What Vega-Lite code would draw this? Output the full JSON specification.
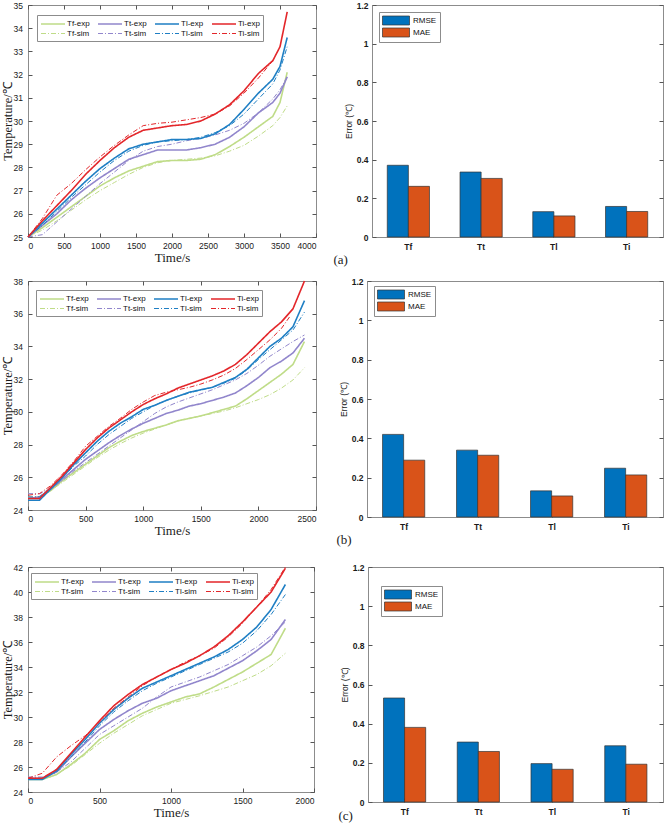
{
"$schema": "https://vega.github.io/schema/vega-lite/v6.json",
"padding": {"left": 0, "top": 0, "right": 0, "bottom": 0},
"background": "white",
"spacing": 9,
"config": {
  "view": {"stroke": "#8c8c8c", "strokeWidth": 1},
  "axis": {"grid": false, "domain": false, "tickColor": "#555", "tickSize": -4, "labelFont": "Liberation Sans", "labelColor": "#1a1a1a", "titleColor": "#1a1a1a", "titleFontWeight": "normal"},
  "axisX": {"labelFontSize": 8.5, "labelPadding": 8, "titlePadding": 2},
  "axisY": {"labelFontSize": 8.5, "labelPadding": 9.5, "titlePadding": 1}
},
"resolve": {"scale": {"color": "independent", "strokeDash": "independent", "strokeWidth": "independent"}},
"vconcat": [
{
  "hconcat": [
  {
    "width": 288, "height": 232,
    "data": {"values": [
{"s":"Tf-sim","t":0,"v":25.0},{"s":"Tf-sim","t":200,"v":25.3},{"s":"Tf-sim","t":400,"v":25.7},{"s":"Tf-sim","t":600,"v":26.15},{"s":"Tf-sim","t":800,"v":26.6},{"s":"Tf-sim","t":1000,"v":27.0},{"s":"Tf-sim","t":1200,"v":27.35},{"s":"Tf-sim","t":1400,"v":27.7},{"s":"Tf-sim","t":1600,"v":28.0},{"s":"Tf-sim","t":1800,"v":28.2},{"s":"Tf-sim","t":2000,"v":28.3},{"s":"Tf-sim","t":2200,"v":28.35},{"s":"Tf-sim","t":2400,"v":28.4},{"s":"Tf-sim","t":2600,"v":28.5},{"s":"Tf-sim","t":2800,"v":28.7},{"s":"Tf-sim","t":3000,"v":28.95},{"s":"Tf-sim","t":3200,"v":29.35},{"s":"Tf-sim","t":3400,"v":29.8},{"s":"Tf-sim","t":3500,"v":30.15},{"s":"Tf-sim","t":3600,"v":30.65},
{"s":"Tf-exp","t":0,"v":25.0},{"s":"Tf-exp","t":200,"v":25.4},{"s":"Tf-exp","t":400,"v":25.85},{"s":"Tf-exp","t":600,"v":26.3},{"s":"Tf-exp","t":800,"v":26.75},{"s":"Tf-exp","t":1000,"v":27.2},{"s":"Tf-exp","t":1200,"v":27.55},{"s":"Tf-exp","t":1400,"v":27.85},{"s":"Tf-exp","t":1600,"v":28.05},{"s":"Tf-exp","t":1800,"v":28.25},{"s":"Tf-exp","t":2000,"v":28.3},{"s":"Tf-exp","t":2200,"v":28.3},{"s":"Tf-exp","t":2400,"v":28.35},{"s":"Tf-exp","t":2600,"v":28.55},{"s":"Tf-exp","t":2800,"v":28.9},{"s":"Tf-exp","t":3000,"v":29.3},{"s":"Tf-exp","t":3200,"v":29.75},{"s":"Tf-exp","t":3400,"v":30.2},{"s":"Tf-exp","t":3500,"v":30.8},{"s":"Tf-exp","t":3600,"v":32.1},
{"s":"Tt-sim","t":0,"v":25.0},{"s":"Tt-sim","t":200,"v":25.1},{"s":"Tt-sim","t":400,"v":25.65},{"s":"Tt-sim","t":600,"v":26.2},{"s":"Tt-sim","t":800,"v":26.75},{"s":"Tt-sim","t":1000,"v":27.3},{"s":"Tt-sim","t":1200,"v":27.8},{"s":"Tt-sim","t":1400,"v":28.3},{"s":"Tt-sim","t":1600,"v":28.7},{"s":"Tt-sim","t":1800,"v":28.9},{"s":"Tt-sim","t":2000,"v":29.0},{"s":"Tt-sim","t":2200,"v":29.15},{"s":"Tt-sim","t":2400,"v":29.25},{"s":"Tt-sim","t":2600,"v":29.4},{"s":"Tt-sim","t":2800,"v":29.6},{"s":"Tt-sim","t":3000,"v":29.9},{"s":"Tt-sim","t":3200,"v":30.35},{"s":"Tt-sim","t":3400,"v":30.95},{"s":"Tt-sim","t":3500,"v":31.35},{"s":"Tt-sim","t":3600,"v":31.9},
{"s":"Tt-exp","t":0,"v":25.0},{"s":"Tt-exp","t":200,"v":25.5},{"s":"Tt-exp","t":400,"v":26.0},{"s":"Tt-exp","t":600,"v":26.6},{"s":"Tt-exp","t":800,"v":27.1},{"s":"Tt-exp","t":1000,"v":27.55},{"s":"Tt-exp","t":1200,"v":27.95},{"s":"Tt-exp","t":1400,"v":28.35},{"s":"Tt-exp","t":1600,"v":28.55},{"s":"Tt-exp","t":1800,"v":28.75},{"s":"Tt-exp","t":2000,"v":28.75},{"s":"Tt-exp","t":2200,"v":28.75},{"s":"Tt-exp","t":2400,"v":28.85},{"s":"Tt-exp","t":2600,"v":29.0},{"s":"Tt-exp","t":2800,"v":29.3},{"s":"Tt-exp","t":3000,"v":29.75},{"s":"Tt-exp","t":3200,"v":30.35},{"s":"Tt-exp","t":3400,"v":30.8},{"s":"Tt-exp","t":3500,"v":31.2},{"s":"Tt-exp","t":3600,"v":31.9},
{"s":"Tl-sim","t":0,"v":25.0},{"s":"Tl-sim","t":200,"v":25.5},{"s":"Tl-sim","t":400,"v":26.1},{"s":"Tl-sim","t":600,"v":26.7},{"s":"Tl-sim","t":800,"v":27.25},{"s":"Tl-sim","t":1000,"v":27.8},{"s":"Tl-sim","t":1200,"v":28.3},{"s":"Tl-sim","t":1400,"v":28.7},{"s":"Tl-sim","t":1600,"v":28.95},{"s":"Tl-sim","t":1800,"v":29.1},{"s":"Tl-sim","t":2000,"v":29.15},{"s":"Tl-sim","t":2200,"v":29.2},{"s":"Tl-sim","t":2400,"v":29.3},{"s":"Tl-sim","t":2600,"v":29.5},{"s":"Tl-sim","t":2800,"v":29.8},{"s":"Tl-sim","t":3000,"v":30.3},{"s":"Tl-sim","t":3200,"v":30.95},{"s":"Tl-sim","t":3400,"v":31.6},{"s":"Tl-sim","t":3500,"v":32.2},{"s":"Tl-sim","t":3600,"v":33.2},
{"s":"Tl-exp","t":0,"v":25.0},{"s":"Tl-exp","t":200,"v":25.6},{"s":"Tl-exp","t":400,"v":26.2},{"s":"Tl-exp","t":600,"v":26.8},{"s":"Tl-exp","t":800,"v":27.4},{"s":"Tl-exp","t":1000,"v":27.95},{"s":"Tl-exp","t":1200,"v":28.4},{"s":"Tl-exp","t":1400,"v":28.8},{"s":"Tl-exp","t":1600,"v":29.0},{"s":"Tl-exp","t":1800,"v":29.1},{"s":"Tl-exp","t":2000,"v":29.2},{"s":"Tl-exp","t":2200,"v":29.2},{"s":"Tl-exp","t":2400,"v":29.25},{"s":"Tl-exp","t":2600,"v":29.45},{"s":"Tl-exp","t":2800,"v":29.85},{"s":"Tl-exp","t":3000,"v":30.5},{"s":"Tl-exp","t":3200,"v":31.2},{"s":"Tl-exp","t":3400,"v":31.8},{"s":"Tl-exp","t":3500,"v":32.35},{"s":"Tl-exp","t":3600,"v":33.6},
{"s":"Ti-sim","t":0,"v":25.0},{"s":"Ti-sim","t":200,"v":25.8},{"s":"Ti-sim","t":400,"v":26.8},{"s":"Ti-sim","t":600,"v":27.3},{"s":"Ti-sim","t":800,"v":27.9},{"s":"Ti-sim","t":1000,"v":28.45},{"s":"Ti-sim","t":1200,"v":28.95},{"s":"Ti-sim","t":1400,"v":29.4},{"s":"Ti-sim","t":1600,"v":29.8},{"s":"Ti-sim","t":1800,"v":29.9},{"s":"Ti-sim","t":2000,"v":29.95},{"s":"Ti-sim","t":2200,"v":30.05},{"s":"Ti-sim","t":2400,"v":30.15},{"s":"Ti-sim","t":2600,"v":30.3},{"s":"Ti-sim","t":2800,"v":30.65},{"s":"Ti-sim","t":3000,"v":31.2},{"s":"Ti-sim","t":3200,"v":31.85},{"s":"Ti-sim","t":3400,"v":32.6},
{"s":"Ti-exp","t":0,"v":25.0},{"s":"Ti-exp","t":200,"v":25.7},{"s":"Ti-exp","t":400,"v":26.35},{"s":"Ti-exp","t":600,"v":27.0},{"s":"Ti-exp","t":800,"v":27.7},{"s":"Ti-exp","t":1000,"v":28.3},{"s":"Ti-exp","t":1200,"v":28.85},{"s":"Ti-exp","t":1400,"v":29.3},{"s":"Ti-exp","t":1600,"v":29.6},{"s":"Ti-exp","t":1800,"v":29.7},{"s":"Ti-exp","t":2000,"v":29.8},{"s":"Ti-exp","t":2200,"v":29.85},{"s":"Ti-exp","t":2400,"v":30.0},{"s":"Ti-exp","t":2600,"v":30.3},{"s":"Ti-exp","t":2800,"v":30.7},{"s":"Ti-exp","t":3000,"v":31.3},{"s":"Ti-exp","t":3200,"v":32.05},{"s":"Ti-exp","t":3400,"v":32.6},{"s":"Ti-exp","t":3500,"v":33.2},{"s":"Ti-exp","t":3600,"v":34.7}
    ]},
    "layer": [
    {
      "mark": {"type": "line"},
      "encoding": {
        "x": {"field": "t", "type": "quantitative", "scale": {"domain": [0, 4000], "nice": false}, "axis": {"values": [0,500,1000,1500,2000,2500,3000,3500,4000], "format": "d", "title": "Time/s", "titleFont": "Liberation Serif", "titleFontSize": 13}},
        "y": {"field": "v", "type": "quantitative", "scale": {"domain": [25, 35], "nice": false, "zero": false}, "axis": {"values": [25,26,27,28,29,30,31,32,33,34,35], "title": "Temperature/℃", "titleFont": "Liberation Serif", "titleFontSize": 12.5, "titleX": -14, "titleBaseline": "bottom"}},
        "color": {"field": "s", "type": "nominal", "scale": {"domain": ["Tf-exp","Tt-exp","Tl-exp","Ti-exp","Tf-sim","Tt-sim","Tl-sim","Ti-sim"], "range": ["#bfdc88","#9186cc","#1f7fc4","#e3262a","#bfdc88","#9186cc","#1f7fc4","#e3262a"]},
          "legend": {"orient": "none", "legendX": 9, "legendY": 10, "columns": 4, "direction": "horizontal", "title": null, "symbolType": "M-1,0H3.8", "symbolSize": 100, "labelFontSize": 8, "labelFont": "Liberation Sans", "labelColor": "#111", "labelOffset": 15, "columnPadding": 4, "rowPadding": -2, "padding": 3, "strokeColor": "#8c8c8c", "fillColor": "white"}},
        "strokeDash": {"field": "s", "type": "nominal", "scale": {"domain": ["Tf-exp","Tt-exp","Tl-exp","Ti-exp","Tf-sim","Tt-sim","Tl-sim","Ti-sim"], "range": [[1,0],[1,0],[1,0],[1,0],[5,2,1,2],[5,2,1,2],[5,2,1,2],[5,2,1,2]]}},
        "strokeWidth": {"field": "s", "type": "nominal", "scale": {"type": "ordinal", "domain": ["Tf-exp","Tt-exp","Tl-exp","Ti-exp","Tf-sim","Tt-sim","Tl-sim","Ti-sim"], "range": [1.6,1.6,1.6,1.6,1,1,1,1]}}
      }
    },
    {
      "mark": {"type": "point", "opacity": 0},
      "encoding": {
        "x": {"field": "t", "type": "quantitative", "axis": {"orient": "top", "labels": false, "title": null, "values": [0,500,1000,1500,2000,2500,3000,3500,4000]}},
        "y": {"field": "v", "type": "quantitative", "axis": {"orient": "right", "labels": false, "title": null, "values": [25,26,27,28,29,30,31,32,33,34,35]}}
      }
    }
    ],
    "resolve": {"axis": {"x": "independent", "y": "independent"}}
  },
  {
    "width": 291, "height": 232,
    "data": {"values": [
{"c":"Tf","m":"RMSE","e":0.371},{"c":"Tf","m":"MAE","e":0.262},
{"c":"Tt","m":"RMSE","e":0.336},{"c":"Tt","m":"MAE","e":0.303},
{"c":"Tl","m":"RMSE","e":0.131},{"c":"Tl","m":"MAE","e":0.109},
{"c":"Ti","m":"RMSE","e":0.158},{"c":"Ti","m":"MAE","e":0.132}
    ]},
    "layer": [
    {
      "mark": {"type": "bar", "stroke": "#333", "strokeWidth": 0.7},
      "encoding": {
        "x": {"field": "c", "type": "nominal", "sort": ["Tf","Tt","Tl","Ti"], "scale": {"paddingInner": 0.42, "paddingOuter": 0.21}, "axis": {"labelAngle": 0, "labelFontSize": 8.5, "labelFontWeight": "bold", "labelPadding": 9, "title": "(a)", "titleFont": "Liberation Serif", "titleFontSize": 13, "titleX": -39, "titleY": 22, "titleAlign": "left", "titleBaseline": "middle", "titleAnchor": "start"}},
        "xOffset": {"field": "m", "type": "nominal", "sort": ["RMSE","MAE"]},
        "y": {"field": "e", "type": "quantitative", "scale": {"domain": [0, 1.2], "nice": false}, "axis": {"values": [0,0.2,0.4,0.6,0.8,1,1.2], "format": ".1~f", "title": "Error (℃)", "labelFontSize": 8.5, "labelFontWeight": "bold", "labelPadding": 8, "titleFont": "Liberation Sans", "titleFontSize": 8.5, "titlePadding": 3}},
        "color": {"field": "m", "type": "nominal", "scale": {"domain": ["RMSE","MAE"], "range": ["#0072BD","#D95319"]},
          "legend": {"orient": "none", "legendX": 7, "legendY": 7, "title": null, "symbolType": "M-1,-0.9H4.4V0.9H-1Z", "symbolSize": 100, "symbolStrokeColor": "#333", "symbolStrokeWidth": 0.7, "labelFontSize": 8, "labelFont": "Liberation Sans", "labelColor": "#111", "labelOffset": 20, "rowPadding": -4, "padding": 3, "strokeColor": "#8c8c8c", "fillColor": "white"}}
      }
    },
    {
      "mark": {"type": "point", "opacity": 0},
      "encoding": {
        "y": {"field": "e", "type": "quantitative", "axis": {"orient": "right", "labels": false, "title": null, "values": [0,0.2,0.4,0.6,0.8,1,1.2]}}
      }
    }
    ],
    "resolve": {"axis": {"y": "independent"}}
  }
  ],
  "spacing": 56, "bounds": "flush",
  "resolve": {"scale": {"color": "independent", "strokeDash": "independent", "strokeWidth": "independent"}}
},
{
  "vconcat": [
  {
    "hconcat": [
    {
      "width": 288, "height": 229,
      "data": {"values": [
{"s":"Tf-sim","t":0,"v":24.8},{"s":"Tf-sim","t":100,"v":24.8},{"s":"Tf-sim","t":200,"v":25.2},{"s":"Tf-sim","t":300,"v":25.7},{"s":"Tf-sim","t":400,"v":26.2},{"s":"Tf-sim","t":500,"v":26.7},{"s":"Tf-sim","t":600,"v":27.2},{"s":"Tf-sim","t":700,"v":27.65},{"s":"Tf-sim","t":800,"v":28.05},{"s":"Tf-sim","t":900,"v":28.4},{"s":"Tf-sim","t":1000,"v":28.7},{"s":"Tf-sim","t":1100,"v":28.95},{"s":"Tf-sim","t":1200,"v":29.2},{"s":"Tf-sim","t":1300,"v":29.45},{"s":"Tf-sim","t":1400,"v":29.6},{"s":"Tf-sim","t":1500,"v":29.75},{"s":"Tf-sim","t":1600,"v":29.9},{"s":"Tf-sim","t":1700,"v":30.05},{"s":"Tf-sim","t":1800,"v":30.25},{"s":"Tf-sim","t":1900,"v":30.5},{"s":"Tf-sim","t":2000,"v":30.75},{"s":"Tf-sim","t":2100,"v":31.05},{"s":"Tf-sim","t":2200,"v":31.45},{"s":"Tf-sim","t":2300,"v":31.95},{"s":"Tf-sim","t":2400,"v":32.7},
{"s":"Tf-exp","t":0,"v":24.7},{"s":"Tf-exp","t":100,"v":24.8},{"s":"Tf-exp","t":200,"v":25.2},{"s":"Tf-exp","t":300,"v":25.8},{"s":"Tf-exp","t":400,"v":26.3},{"s":"Tf-exp","t":500,"v":26.8},{"s":"Tf-exp","t":600,"v":27.3},{"s":"Tf-exp","t":700,"v":27.8},{"s":"Tf-exp","t":800,"v":28.2},{"s":"Tf-exp","t":900,"v":28.55},{"s":"Tf-exp","t":1000,"v":28.8},{"s":"Tf-exp","t":1100,"v":29.0},{"s":"Tf-exp","t":1200,"v":29.2},{"s":"Tf-exp","t":1300,"v":29.45},{"s":"Tf-exp","t":1400,"v":29.6},{"s":"Tf-exp","t":1500,"v":29.75},{"s":"Tf-exp","t":1600,"v":29.95},{"s":"Tf-exp","t":1700,"v":30.15},{"s":"Tf-exp","t":1800,"v":30.35},{"s":"Tf-exp","t":1900,"v":30.8},{"s":"Tf-exp","t":2000,"v":31.3},{"s":"Tf-exp","t":2100,"v":31.8},{"s":"Tf-exp","t":2200,"v":32.3},{"s":"Tf-exp","t":2300,"v":32.9},{"s":"Tf-exp","t":2400,"v":34.3},
{"s":"Tt-sim","t":0,"v":25.0},{"s":"Tt-sim","t":100,"v":25.0},{"s":"Tt-sim","t":200,"v":25.3},{"s":"Tt-sim","t":300,"v":25.8},{"s":"Tt-sim","t":400,"v":26.4},{"s":"Tt-sim","t":500,"v":26.9},{"s":"Tt-sim","t":600,"v":27.4},{"s":"Tt-sim","t":700,"v":27.9},{"s":"Tt-sim","t":800,"v":28.4},{"s":"Tt-sim","t":900,"v":28.9},{"s":"Tt-sim","t":1000,"v":29.4},{"s":"Tt-sim","t":1100,"v":29.9},{"s":"Tt-sim","t":1200,"v":30.3},{"s":"Tt-sim","t":1300,"v":30.6},{"s":"Tt-sim","t":1400,"v":30.85},{"s":"Tt-sim","t":1500,"v":31.1},{"s":"Tt-sim","t":1600,"v":31.35},{"s":"Tt-sim","t":1700,"v":31.65},{"s":"Tt-sim","t":1800,"v":31.95},{"s":"Tt-sim","t":1900,"v":32.35},{"s":"Tt-sim","t":2000,"v":32.85},{"s":"Tt-sim","t":2100,"v":33.4},{"s":"Tt-sim","t":2200,"v":33.85},{"s":"Tt-sim","t":2300,"v":34.3},{"s":"Tt-sim","t":2400,"v":34.7},
{"s":"Tt-exp","t":0,"v":24.7},{"s":"Tt-exp","t":100,"v":24.8},{"s":"Tt-exp","t":200,"v":25.3},{"s":"Tt-exp","t":300,"v":25.9},{"s":"Tt-exp","t":400,"v":26.5},{"s":"Tt-exp","t":500,"v":27.1},{"s":"Tt-exp","t":600,"v":27.6},{"s":"Tt-exp","t":700,"v":28.1},{"s":"Tt-exp","t":800,"v":28.55},{"s":"Tt-exp","t":900,"v":28.95},{"s":"Tt-exp","t":1000,"v":29.3},{"s":"Tt-exp","t":1100,"v":29.6},{"s":"Tt-exp","t":1200,"v":29.9},{"s":"Tt-exp","t":1300,"v":30.1},{"s":"Tt-exp","t":1400,"v":30.35},{"s":"Tt-exp","t":1500,"v":30.5},{"s":"Tt-exp","t":1600,"v":30.7},{"s":"Tt-exp","t":1700,"v":30.9},{"s":"Tt-exp","t":1800,"v":31.15},{"s":"Tt-exp","t":1900,"v":31.6},{"s":"Tt-exp","t":2000,"v":32.1},{"s":"Tt-exp","t":2100,"v":32.7},{"s":"Tt-exp","t":2200,"v":33.1},{"s":"Tt-exp","t":2300,"v":33.6},{"s":"Tt-exp","t":2400,"v":34.5},
{"s":"Tl-sim","t":0,"v":24.8},{"s":"Tl-sim","t":100,"v":24.8},{"s":"Tl-sim","t":200,"v":25.4},{"s":"Tl-sim","t":300,"v":26.0},{"s":"Tl-sim","t":400,"v":26.7},{"s":"Tl-sim","t":500,"v":27.3},{"s":"Tl-sim","t":600,"v":28.0},{"s":"Tl-sim","t":700,"v":28.6},{"s":"Tl-sim","t":800,"v":29.1},{"s":"Tl-sim","t":900,"v":29.6},{"s":"Tl-sim","t":1000,"v":30.0},{"s":"Tl-sim","t":1100,"v":30.4},{"s":"Tl-sim","t":1200,"v":30.7},{"s":"Tl-sim","t":1300,"v":30.95},{"s":"Tl-sim","t":1400,"v":31.15},{"s":"Tl-sim","t":1500,"v":31.35},{"s":"Tl-sim","t":1600,"v":31.5},{"s":"Tl-sim","t":1700,"v":31.75},{"s":"Tl-sim","t":1800,"v":32.05},{"s":"Tl-sim","t":1900,"v":32.55},{"s":"Tl-sim","t":2000,"v":33.2},{"s":"Tl-sim","t":2100,"v":33.8},{"s":"Tl-sim","t":2200,"v":34.4},{"s":"Tl-sim","t":2300,"v":35.0},{"s":"Tl-sim","t":2400,"v":36.1},
{"s":"Tl-exp","t":0,"v":24.6},{"s":"Tl-exp","t":100,"v":24.6},{"s":"Tl-exp","t":200,"v":25.3},{"s":"Tl-exp","t":300,"v":26.0},{"s":"Tl-exp","t":400,"v":26.8},{"s":"Tl-exp","t":500,"v":27.5},{"s":"Tl-exp","t":600,"v":28.2},{"s":"Tl-exp","t":700,"v":28.8},{"s":"Tl-exp","t":800,"v":29.3},{"s":"Tl-exp","t":900,"v":29.7},{"s":"Tl-exp","t":1000,"v":30.15},{"s":"Tl-exp","t":1100,"v":30.4},{"s":"Tl-exp","t":1200,"v":30.7},{"s":"Tl-exp","t":1300,"v":30.95},{"s":"Tl-exp","t":1400,"v":31.2},{"s":"Tl-exp","t":1500,"v":31.35},{"s":"Tl-exp","t":1600,"v":31.5},{"s":"Tl-exp","t":1700,"v":31.8},{"s":"Tl-exp","t":1800,"v":32.1},{"s":"Tl-exp","t":1900,"v":32.6},{"s":"Tl-exp","t":2000,"v":33.3},{"s":"Tl-exp","t":2100,"v":34.0},{"s":"Tl-exp","t":2200,"v":34.5},{"s":"Tl-exp","t":2300,"v":35.2},{"s":"Tl-exp","t":2400,"v":36.8},
{"s":"Ti-sim","t":0,"v":24.9},{"s":"Ti-sim","t":100,"v":25.0},{"s":"Ti-sim","t":200,"v":25.5},{"s":"Ti-sim","t":300,"v":26.2},{"s":"Ti-sim","t":400,"v":27.0},{"s":"Ti-sim","t":500,"v":27.9},{"s":"Ti-sim","t":600,"v":28.5},{"s":"Ti-sim","t":700,"v":29.1},{"s":"Ti-sim","t":800,"v":29.6},{"s":"Ti-sim","t":900,"v":30.15},{"s":"Ti-sim","t":1000,"v":30.6},{"s":"Ti-sim","t":1100,"v":31.0},{"s":"Ti-sim","t":1200,"v":31.2},{"s":"Ti-sim","t":1300,"v":31.35},{"s":"Ti-sim","t":1400,"v":31.5},{"s":"Ti-sim","t":1500,"v":31.7},{"s":"Ti-sim","t":1600,"v":31.95},{"s":"Ti-sim","t":1700,"v":32.25},{"s":"Ti-sim","t":1800,"v":32.65},{"s":"Ti-sim","t":1900,"v":33.2},{"s":"Ti-sim","t":2000,"v":33.8},{"s":"Ti-sim","t":2100,"v":34.4},{"s":"Ti-sim","t":2200,"v":35.1},{"s":"Ti-sim","t":2270,"v":35.8},
{"s":"Ti-exp","t":0,"v":24.7},{"s":"Ti-exp","t":100,"v":24.7},{"s":"Ti-exp","t":200,"v":25.4},{"s":"Ti-exp","t":300,"v":26.1},{"s":"Ti-exp","t":400,"v":26.9},{"s":"Ti-exp","t":500,"v":27.7},{"s":"Ti-exp","t":600,"v":28.4},{"s":"Ti-exp","t":700,"v":29.0},{"s":"Ti-exp","t":800,"v":29.5},{"s":"Ti-exp","t":900,"v":30.0},{"s":"Ti-exp","t":1000,"v":30.45},{"s":"Ti-exp","t":1100,"v":30.8},{"s":"Ti-exp","t":1200,"v":31.1},{"s":"Ti-exp","t":1300,"v":31.45},{"s":"Ti-exp","t":1400,"v":31.7},{"s":"Ti-exp","t":1500,"v":31.95},{"s":"Ti-exp","t":1600,"v":32.2},{"s":"Ti-exp","t":1700,"v":32.5},{"s":"Ti-exp","t":1800,"v":32.9},{"s":"Ti-exp","t":1900,"v":33.5},{"s":"Ti-exp","t":2000,"v":34.2},{"s":"Ti-exp","t":2100,"v":34.9},{"s":"Ti-exp","t":2200,"v":35.5},{"s":"Ti-exp","t":2300,"v":36.3},{"s":"Ti-exp","t":2400,"v":38.0}
      ]},
      "layer": [
      {
        "mark": {"type": "line"},
        "encoding": {
          "x": {"field": "t", "type": "quantitative", "scale": {"domain": [0, 2500], "nice": false}, "axis": {"values": [0,500,1000,1500,2000,2500], "format": "d", "title": "Time/s", "titleFont": "Liberation Serif", "titleFontSize": 13}},
          "y": {"field": "v", "type": "quantitative", "scale": {"domain": [24, 38], "nice": false, "zero": false}, "axis": {"values": [24,26,28,30,32,34,36,38], "title": "Temperature/℃", "titleFont": "Liberation Serif", "titleFontSize": 12.5, "titleX": -14, "titleBaseline": "bottom"}},
          "color": {"field": "s", "type": "nominal", "scale": {"domain": ["Tf-exp","Tt-exp","Tl-exp","Ti-exp","Tf-sim","Tt-sim","Tl-sim","Ti-sim"], "range": ["#bfdc88","#9186cc","#1f7fc4","#e3262a","#bfdc88","#9186cc","#1f7fc4","#e3262a"]},
            "legend": {"orient": "none", "legendX": 8, "legendY": 9, "columns": 4, "direction": "horizontal", "title": null, "symbolType": "M-1,0H3.8", "symbolSize": 100, "labelFontSize": 8, "labelFont": "Liberation Sans", "labelColor": "#111", "labelOffset": 15, "columnPadding": 4, "rowPadding": -2, "padding": 3, "strokeColor": "#8c8c8c", "fillColor": "white"}},
          "strokeDash": {"field": "s", "type": "nominal", "scale": {"domain": ["Tf-exp","Tt-exp","Tl-exp","Ti-exp","Tf-sim","Tt-sim","Tl-sim","Ti-sim"], "range": [[1,0],[1,0],[1,0],[1,0],[5,2,1,2],[5,2,1,2],[5,2,1,2],[5,2,1,2]]}},
          "strokeWidth": {"field": "s", "type": "nominal", "scale": {"type": "ordinal", "domain": ["Tf-exp","Tt-exp","Tl-exp","Ti-exp","Tf-sim","Tt-sim","Tl-sim","Ti-sim"], "range": [1.6,1.6,1.6,1.6,1,1,1,1]}}
        }
      },
      {
        "mark": {"type": "point", "opacity": 0},
        "encoding": {
          "x": {"field": "t", "type": "quantitative", "axis": {"orient": "top", "labels": false, "title": null, "values": [0,500,1000,1500,2000,2500]}},
          "y": {"field": "v", "type": "quantitative", "axis": {"orient": "right", "labels": false, "title": null, "values": [24,26,28,30,32,34,36,38]}}
        }
      }
      ],
      "resolve": {"axis": {"x": "independent", "y": "independent"}}
    },
    {
      "width": 296, "height": 236,
      "data": {"values": [
{"c":"Tf","m":"RMSE","e":0.420},{"c":"Tf","m":"MAE","e":0.289},
{"c":"Tt","m":"RMSE","e":0.340},{"c":"Tt","m":"MAE","e":0.314},
{"c":"Tl","m":"RMSE","e":0.133},{"c":"Tl","m":"MAE","e":0.107},
{"c":"Ti","m":"RMSE","e":0.248},{"c":"Ti","m":"MAE","e":0.214}
      ]},
      "layer": [
      {
        "mark": {"type": "bar", "stroke": "#333", "strokeWidth": 0.7},
        "encoding": {
          "x": {"field": "c", "type": "nominal", "sort": ["Tf","Tt","Tl","Ti"], "scale": {"paddingInner": 0.42, "paddingOuter": 0.21}, "axis": {"labelAngle": 0, "labelFontSize": 8.5, "labelFontWeight": "bold", "labelPadding": 9, "title": "(b)", "titleFont": "Liberation Serif", "titleFontSize": 13, "titleX": -31, "titleY": 22, "titleAlign": "left", "titleBaseline": "middle", "titleAnchor": "start"}},
          "xOffset": {"field": "m", "type": "nominal", "sort": ["RMSE","MAE"]},
          "y": {"field": "e", "type": "quantitative", "scale": {"domain": [0, 1.2], "nice": false}, "axis": {"values": [0,0.2,0.4,0.6,0.8,1,1.2], "format": ".1~f", "title": "Error (℃)", "labelFontSize": 8.5, "labelFontWeight": "bold", "labelPadding": 8, "titleFont": "Liberation Sans", "titleFontSize": 8.5, "titlePadding": 3}},
          "color": {"field": "m", "type": "nominal", "scale": {"domain": ["RMSE","MAE"], "range": ["#0072BD","#D95319"]},
            "legend": {"orient": "none", "legendX": 7, "legendY": 5, "title": null, "symbolType": "M-1,-0.9H4.4V0.9H-1Z", "symbolSize": 100, "symbolStrokeColor": "#333", "symbolStrokeWidth": 0.7, "labelFontSize": 8, "labelFont": "Liberation Sans", "labelColor": "#111", "labelOffset": 20, "rowPadding": -4, "padding": 3, "strokeColor": "#8c8c8c", "fillColor": "white"}}
        }
      },
      {
        "mark": {"type": "point", "opacity": 0},
        "encoding": {
          "y": {"field": "e", "type": "quantitative", "axis": {"orient": "right", "labels": false, "title": null, "values": [0,0.2,0.4,0.6,0.8,1,1.2]}}
        }
      }
      ],
      "resolve": {"axis": {"y": "independent"}}
    }
    ],
    "spacing": 51, "bounds": "flush",
    "resolve": {"scale": {"color": "independent", "strokeDash": "independent", "strokeWidth": "independent"}}
  },
  {
    "hconcat": [
    {
      "width": 286, "height": 225,
      "data": {"values": [
{"s":"Tf-sim","t":0,"v":25.0},{"s":"Tf-sim","t":100,"v":25.0},{"s":"Tf-sim","t":200,"v":25.4},{"s":"Tf-sim","t":300,"v":26.1},{"s":"Tf-sim","t":400,"v":27.0},{"s":"Tf-sim","t":500,"v":27.9},{"s":"Tf-sim","t":600,"v":28.7},{"s":"Tf-sim","t":700,"v":29.4},{"s":"Tf-sim","t":800,"v":30.1},{"s":"Tf-sim","t":900,"v":30.6},{"s":"Tf-sim","t":1000,"v":31.1},{"s":"Tf-sim","t":1100,"v":31.4},{"s":"Tf-sim","t":1200,"v":31.7},{"s":"Tf-sim","t":1300,"v":32.05},{"s":"Tf-sim","t":1400,"v":32.4},{"s":"Tf-sim","t":1500,"v":32.9},{"s":"Tf-sim","t":1600,"v":33.4},{"s":"Tf-sim","t":1700,"v":34.1},{"s":"Tf-sim","t":1800,"v":35.1},
{"s":"Tf-exp","t":0,"v":25.0},{"s":"Tf-exp","t":100,"v":25.0},{"s":"Tf-exp","t":200,"v":25.4},{"s":"Tf-exp","t":300,"v":26.2},{"s":"Tf-exp","t":400,"v":27.1},{"s":"Tf-exp","t":500,"v":28.2},{"s":"Tf-exp","t":600,"v":28.9},{"s":"Tf-exp","t":700,"v":29.7},{"s":"Tf-exp","t":800,"v":30.3},{"s":"Tf-exp","t":900,"v":30.8},{"s":"Tf-exp","t":1000,"v":31.2},{"s":"Tf-exp","t":1100,"v":31.6},{"s":"Tf-exp","t":1200,"v":31.85},{"s":"Tf-exp","t":1300,"v":32.4},{"s":"Tf-exp","t":1400,"v":33.0},{"s":"Tf-exp","t":1500,"v":33.6},{"s":"Tf-exp","t":1600,"v":34.3},{"s":"Tf-exp","t":1700,"v":35.0},{"s":"Tf-exp","t":1800,"v":37.1},
{"s":"Tt-sim","t":0,"v":25.2},{"s":"Tt-sim","t":100,"v":25.2},{"s":"Tt-sim","t":200,"v":25.6},{"s":"Tt-sim","t":300,"v":26.4},{"s":"Tt-sim","t":400,"v":27.5},{"s":"Tt-sim","t":500,"v":28.6},{"s":"Tt-sim","t":600,"v":29.3},{"s":"Tt-sim","t":700,"v":30.0},{"s":"Tt-sim","t":800,"v":30.7},{"s":"Tt-sim","t":900,"v":31.6},{"s":"Tt-sim","t":1000,"v":32.4},{"s":"Tt-sim","t":1100,"v":32.8},{"s":"Tt-sim","t":1200,"v":33.2},{"s":"Tt-sim","t":1300,"v":33.7},{"s":"Tt-sim","t":1400,"v":34.2},{"s":"Tt-sim","t":1500,"v":34.9},{"s":"Tt-sim","t":1600,"v":35.6},{"s":"Tt-sim","t":1700,"v":36.5},{"s":"Tt-sim","t":1800,"v":37.6},
{"s":"Tt-exp","t":0,"v":25.1},{"s":"Tt-exp","t":100,"v":25.1},{"s":"Tt-exp","t":200,"v":25.6},{"s":"Tt-exp","t":300,"v":26.8},{"s":"Tt-exp","t":400,"v":27.9},{"s":"Tt-exp","t":500,"v":29.0},{"s":"Tt-exp","t":600,"v":29.8},{"s":"Tt-exp","t":700,"v":30.5},{"s":"Tt-exp","t":800,"v":31.1},{"s":"Tt-exp","t":900,"v":31.5},{"s":"Tt-exp","t":1000,"v":32.1},{"s":"Tt-exp","t":1100,"v":32.5},{"s":"Tt-exp","t":1200,"v":32.9},{"s":"Tt-exp","t":1300,"v":33.3},{"s":"Tt-exp","t":1400,"v":33.9},{"s":"Tt-exp","t":1500,"v":34.5},{"s":"Tt-exp","t":1600,"v":35.3},{"s":"Tt-exp","t":1700,"v":36.2},{"s":"Tt-exp","t":1800,"v":37.8},
{"s":"Tl-sim","t":0,"v":25.1},{"s":"Tl-sim","t":100,"v":25.1},{"s":"Tl-sim","t":200,"v":25.6},{"s":"Tl-sim","t":300,"v":26.8},{"s":"Tl-sim","t":400,"v":28.0},{"s":"Tl-sim","t":500,"v":29.3},{"s":"Tl-sim","t":600,"v":30.4},{"s":"Tl-sim","t":700,"v":31.3},{"s":"Tl-sim","t":800,"v":32.1},{"s":"Tl-sim","t":900,"v":32.7},{"s":"Tl-sim","t":1000,"v":33.2},{"s":"Tl-sim","t":1100,"v":33.7},{"s":"Tl-sim","t":1200,"v":34.2},{"s":"Tl-sim","t":1300,"v":34.7},{"s":"Tl-sim","t":1400,"v":35.2},{"s":"Tl-sim","t":1500,"v":35.9},{"s":"Tl-sim","t":1600,"v":36.9},{"s":"Tl-sim","t":1700,"v":38.2},{"s":"Tl-sim","t":1800,"v":39.8},
{"s":"Tl-exp","t":0,"v":25.0},{"s":"Tl-exp","t":100,"v":25.0},{"s":"Tl-exp","t":200,"v":25.7},{"s":"Tl-exp","t":300,"v":27.0},{"s":"Tl-exp","t":400,"v":28.2},{"s":"Tl-exp","t":500,"v":29.5},{"s":"Tl-exp","t":600,"v":30.6},{"s":"Tl-exp","t":700,"v":31.5},{"s":"Tl-exp","t":800,"v":32.3},{"s":"Tl-exp","t":900,"v":32.8},{"s":"Tl-exp","t":1000,"v":33.3},{"s":"Tl-exp","t":1100,"v":33.8},{"s":"Tl-exp","t":1200,"v":34.3},{"s":"Tl-exp","t":1300,"v":34.8},{"s":"Tl-exp","t":1400,"v":35.4},{"s":"Tl-exp","t":1500,"v":36.2},{"s":"Tl-exp","t":1600,"v":37.2},{"s":"Tl-exp","t":1700,"v":38.6},{"s":"Tl-exp","t":1800,"v":40.6},
{"s":"Ti-sim","t":0,"v":25.1},{"s":"Ti-sim","t":100,"v":25.5},{"s":"Ti-sim","t":200,"v":26.8},{"s":"Ti-sim","t":300,"v":27.7},{"s":"Ti-sim","t":400,"v":28.5},{"s":"Ti-sim","t":500,"v":29.6},{"s":"Ti-sim","t":600,"v":30.7},{"s":"Ti-sim","t":700,"v":31.6},{"s":"Ti-sim","t":800,"v":32.5},{"s":"Ti-sim","t":900,"v":33.2},{"s":"Ti-sim","t":1000,"v":33.8},{"s":"Ti-sim","t":1100,"v":34.4},{"s":"Ti-sim","t":1200,"v":34.9},{"s":"Ti-sim","t":1300,"v":35.5},{"s":"Ti-sim","t":1400,"v":36.4},{"s":"Ti-sim","t":1500,"v":37.5},{"s":"Ti-sim","t":1600,"v":38.8},{"s":"Ti-sim","t":1700,"v":40.2},{"s":"Ti-sim","t":1800,"v":42.0},
{"s":"Ti-exp","t":0,"v":25.1},{"s":"Ti-exp","t":100,"v":25.1},{"s":"Ti-exp","t":200,"v":25.8},{"s":"Ti-exp","t":300,"v":27.1},{"s":"Ti-exp","t":400,"v":28.4},{"s":"Ti-exp","t":500,"v":29.7},{"s":"Ti-exp","t":600,"v":30.9},{"s":"Ti-exp","t":700,"v":31.8},{"s":"Ti-exp","t":800,"v":32.6},{"s":"Ti-exp","t":900,"v":33.2},{"s":"Ti-exp","t":1000,"v":33.8},{"s":"Ti-exp","t":1100,"v":34.3},{"s":"Ti-exp","t":1200,"v":34.9},{"s":"Ti-exp","t":1300,"v":35.6},{"s":"Ti-exp","t":1400,"v":36.5},{"s":"Ti-exp","t":1500,"v":37.6},{"s":"Ti-exp","t":1600,"v":38.8},{"s":"Ti-exp","t":1700,"v":40.0},{"s":"Ti-exp","t":1800,"v":41.9}
      ]},
      "layer": [
      {
        "mark": {"type": "line"},
        "encoding": {
          "x": {"field": "t", "type": "quantitative", "scale": {"domain": [0, 2000], "nice": false}, "axis": {"values": [0,500,1000,1500,2000], "format": "d", "title": "Time/s", "titleFont": "Liberation Serif", "titleFontSize": 13}},
          "y": {"field": "v", "type": "quantitative", "scale": {"domain": [24, 42], "nice": false, "zero": false}, "axis": {"values": [24,26,28,30,32,34,36,38,40,42], "title": "Temperature/℃", "titleFont": "Liberation Serif", "titleFontSize": 12.5, "titleX": -14, "titleBaseline": "bottom"}},
          "color": {"field": "s", "type": "nominal", "scale": {"domain": ["Tf-exp","Tt-exp","Tl-exp","Ti-exp","Tf-sim","Tt-sim","Tl-sim","Ti-sim"], "range": ["#bfdc88","#9186cc","#1f7fc4","#e3262a","#bfdc88","#9186cc","#1f7fc4","#e3262a"]},
            "legend": {"orient": "none", "legendX": 3, "legendY": 6, "columns": 4, "direction": "horizontal", "title": null, "symbolType": "M-1,0H3.8", "symbolSize": 100, "labelFontSize": 8, "labelFont": "Liberation Sans", "labelColor": "#111", "labelOffset": 15, "columnPadding": 4, "rowPadding": -2, "padding": 3, "strokeColor": "#8c8c8c", "fillColor": "white"}},
          "strokeDash": {"field": "s", "type": "nominal", "scale": {"domain": ["Tf-exp","Tt-exp","Tl-exp","Ti-exp","Tf-sim","Tt-sim","Tl-sim","Ti-sim"], "range": [[1,0],[1,0],[1,0],[1,0],[5,2,1,2],[5,2,1,2],[5,2,1,2],[5,2,1,2]]}},
          "strokeWidth": {"field": "s", "type": "nominal", "scale": {"type": "ordinal", "domain": ["Tf-exp","Tt-exp","Tl-exp","Ti-exp","Tf-sim","Tt-sim","Tl-sim","Ti-sim"], "range": [1.6,1.6,1.6,1.6,1,1,1,1]}}
        }
      },
      {
        "mark": {"type": "point", "opacity": 0},
        "encoding": {
          "x": {"field": "t", "type": "quantitative", "axis": {"orient": "top", "labels": false, "title": null, "values": [0,500,1000,1500,2000]}},
          "y": {"field": "v", "type": "quantitative", "axis": {"orient": "right", "labels": false, "title": null, "values": [24,26,28,30,32,34,36,38,40,42]}}
        }
      }
      ],
      "resolve": {"axis": {"x": "independent", "y": "independent"}}
    },
    {
      "width": 295, "height": 235,
      "data": {"values": [
{"c":"Tf","m":"RMSE","e":0.531},{"c":"Tf","m":"MAE","e":0.381},
{"c":"Tt","m":"RMSE","e":0.306},{"c":"Tt","m":"MAE","e":0.258},
{"c":"Tl","m":"RMSE","e":0.196},{"c":"Tl","m":"MAE","e":0.167},
{"c":"Ti","m":"RMSE","e":0.287},{"c":"Ti","m":"MAE","e":0.193}
      ]},
      "layer": [
      {
        "mark": {"type": "bar", "stroke": "#333", "strokeWidth": 0.7},
        "encoding": {
          "x": {"field": "c", "type": "nominal", "sort": ["Tf","Tt","Tl","Ti"], "scale": {"paddingInner": 0.42, "paddingOuter": 0.21}, "axis": {"labelAngle": 0, "labelFontSize": 8.5, "labelFontWeight": "bold", "labelPadding": 9, "title": "(c)", "titleFont": "Liberation Serif", "titleFontSize": 13, "titleX": -30, "titleY": 13, "titleAlign": "left", "titleBaseline": "middle", "titleAnchor": "start"}},
          "xOffset": {"field": "m", "type": "nominal", "sort": ["RMSE","MAE"]},
          "y": {"field": "e", "type": "quantitative", "scale": {"domain": [0, 1.2], "nice": false}, "axis": {"values": [0,0.2,0.4,0.6,0.8,1,1.2], "format": ".1~f", "title": "Error (℃)", "labelFontSize": 8.5, "labelFontWeight": "bold", "labelPadding": 8, "titleFont": "Liberation Sans", "titleFontSize": 8.5, "titlePadding": 3}},
          "color": {"field": "m", "type": "nominal", "scale": {"domain": ["RMSE","MAE"], "range": ["#0072BD","#D95319"]},
            "legend": {"orient": "none", "legendX": 13, "legendY": 19, "title": null, "symbolType": "M-1,-0.9H4.4V0.9H-1Z", "symbolSize": 100, "symbolStrokeColor": "#333", "symbolStrokeWidth": 0.7, "labelFontSize": 8, "labelFont": "Liberation Sans", "labelColor": "#111", "labelOffset": 20, "rowPadding": -4, "padding": 3, "strokeColor": "#8c8c8c", "fillColor": "white"}}
        }
      },
      {
        "mark": {"type": "point", "opacity": 0},
        "encoding": {
          "y": {"field": "e", "type": "quantitative", "axis": {"orient": "right", "labels": false, "title": null, "values": [0,0.2,0.4,0.6,0.8,1,1.2]}}
        }
      }
      ],
      "resolve": {"axis": {"y": "independent"}}
    }
    ],
    "spacing": 54, "bounds": "flush",
    "resolve": {"scale": {"color": "independent", "strokeDash": "independent", "strokeWidth": "independent"}}
  }
  ],
  "spacing": 15,
  "resolve": {"scale": {"color": "independent", "strokeDash": "independent", "strokeWidth": "independent"}}
}
]
}
